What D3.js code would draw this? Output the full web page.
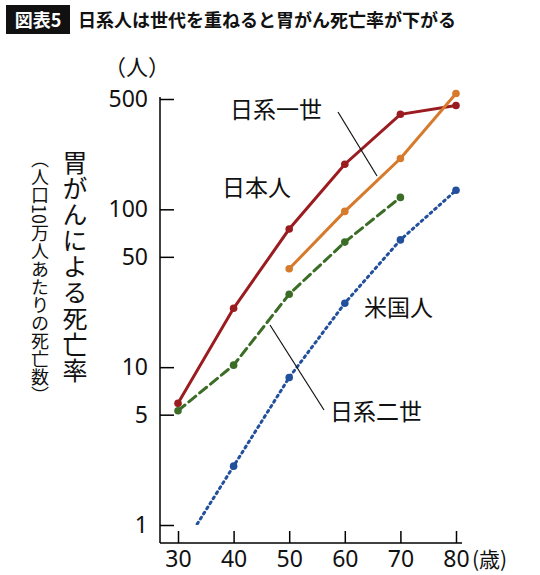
<!DOCTYPE html>
<html><head><meta charset="utf-8">
<script src="https://cdn.jsdelivr.net/npm/d3@7"></script>
<style>
body{margin:0;background:#fff;font-family:"Noto Sans CJK JP",sans-serif}
</style></head><body>
<svg id="c" width="540" height="575"></svg>
<script>
// data (deaths per 100k, log scale)
var ages = [30, 40, 50, 60, 70, 80];
var japan = [5.9, 23.6, 75, 193, 400, 455];
var issei = [null, null, 42, 97, 210, 542];
var nisei = [5.3, 10.3, 29, 62, 119, null];
var usa = [0.65, 2.36, 8.6, 25.4, 64, 132];
var yTicks = [1, 5, 10, 50, 100, 500];
var xTicks = [30, 40, 50, 60, 70, 80];

var svg = d3.select("#c");
var x = d3.scaleLinear().domain([30, 80]).range([178, 456]);
var y = d3.scaleLog().domain([1, 500]).range([525, 99]);

// title
svg.append("rect").attr("x", 6).attr("y", 5).attr("width", 64).attr("height", 29).attr("fill", "#111");
svg.append("text").attr("x", 38).attr("y", 27).attr("text-anchor", "middle").attr("fill", "#fff")
  .attr("font-size", 18).attr("font-weight", "bold").text("図表5");
svg.append("text").attr("x", 78).attr("y", 27).attr("font-size", 18).attr("font-weight", "bold")
  .attr("fill", "#111").text("日系人は世代を重ねると胃がん死亡率が下がる");

// axes
var ay = svg.append("g").attr("transform", "translate(160,0)")
  .call(d3.axisLeft(y).tickValues(yTicks).tickFormat(d3.format("d")).tickSizeInner(-14).tickSizeOuter(0).tickPadding(12));
ay.select(".domain").attr("d", "M0,97V543").attr("stroke-width", 1.5);
ay.selectAll("text").attr("font-size", 23).attr("font-family", "Noto Sans, sans-serif").attr("fill", "#111");
ay.selectAll("line").attr("stroke-width", 1.5);

var ax = svg.append("g").attr("transform", "translate(0,543)")
  .call(d3.axisBottom(x).tickValues(xTicks).tickFormat(d3.format("d")).tickSizeInner(-12).tickSizeOuter(0).tickPadding(8));
ax.select(".domain").attr("d", "M160,0H462").attr("stroke-width", 1.5);
ax.selectAll("text").attr("font-size", 23).attr("font-family", "Noto Sans, sans-serif").attr("fill", "#111");
ax.selectAll("line").attr("stroke-width", 1.5);

svg.append("text").attr("x", 472).attr("y", 567).attr("font-size", 21).attr("fill", "#111").text("(歳)");
svg.append("text").attr("x", 104).attr("y", 75).attr("font-size", 22).attr("fill", "#111").text("（人）");

// vertical axis titles
svg.append("text").attr("x", 75).attr("y", 150).attr("writing-mode", "tb").attr("font-size", 25)
  .attr("fill", "#111").attr("letter-spacing", 1).text("胃がんによる死亡率");
svg.append("text").attr("x", 40).attr("y", 150).attr("writing-mode", "tb").attr("font-size", 18)
  .attr("fill", "#111").text("（人口10万人あたりの死亡数）");

// clip to plot
svg.append("clipPath").attr("id", "pc").append("rect").attr("x", 160).attr("y", 80).attr("width", 320).attr("height", 445);

var series = [
  {v: japan, c: "#9b1c20", dash: null},
  {v: issei, c: "#d67a2c", dash: null},
  {v: nisei, c: "#3b6d27", dash: "9,5"},
  {v: usa, c: "#22509c", dash: "2,4"}
];
var line = d3.line().defined(function(d){return d[1] != null;})
  .x(function(d){return x(d[0]);}).y(function(d){return y(d[1]);});
var g = svg.append("g").attr("clip-path", "url(#pc)");
series.forEach(function(s){
  var pts = ages.map(function(a, i){return [a, s.v[i]];});
  g.append("path").datum(pts).attr("d", line).attr("fill", "none").attr("stroke", s.c)
    .attr("stroke-width", 3).attr("stroke-dasharray", s.dash).attr("stroke-linecap", s.dash ? "round" : "butt");
  g.selectAll(null).data(pts.filter(function(d){return d[1] != null && d[1] >= 1;})).enter()
    .append("circle").attr("cx", function(d){return x(d[0]);}).attr("cy", function(d){return y(d[1]);})
    .attr("r", 3.8).attr("fill", s.c);
});

// labels and leaders
function lab(t, px, py){ svg.append("text").attr("x", px).attr("y", py).attr("font-size", 23).attr("fill", "#111").text(t); }
lab("日系一世", 230, 118);
lab("日本人", 222, 196);
lab("米国人", 364, 316);
lab("日系二世", 330, 420);
svg.append("line").attr("x1", 338).attr("y1", 112).attr("x2", 377).attr("y2", 176).attr("stroke", "#111").attr("stroke-width", 1.2);
svg.append("line").attr("x1", 270).attr("y1", 325).attr("x2", 324).attr("y2", 410).attr("stroke", "#111").attr("stroke-width", 1.2);
</script>
</body></html>
